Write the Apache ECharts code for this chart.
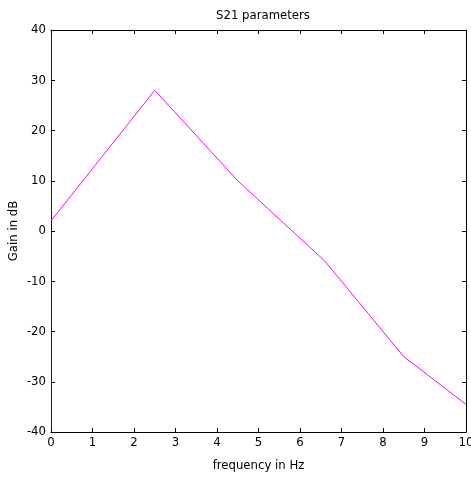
<!DOCTYPE html>
<html>
<head>
<meta charset="utf-8">
<script src="https://cdn.jsdelivr.net/npm/echarts@6/dist/echarts.min.js"></script>
<style>html,body{margin:0;padding:0;background:#fff}#c{width:471px;height:477px}</style>
</head>
<body>
<div id="c"></div>
<script>
var freq = [0, 2.5, 4.5, 6.6, 8.5, 10];
var gain = [2, 28, 10, -6, -25, -34.5];
var xTicks = [0,1,2,3,4,5,6,7,8,9,10];
var yTicks = [-40,-30,-20,-10,0,10,20,30,40];

var chart = echarts.init(document.getElementById('c'), null, {renderer:'canvas'});
var font = '"Liberation Sans Narrow", "DejaVu Sans Condensed", "Liberation Sans", sans-serif';
var tickStyle = {show:true, inside:true, length:4, lineStyle:{color:'#000', width:1}};
chart.setOption({
  animation:false,
  backgroundColor:'#fff',
  title:{text:'S21 parameters', left:258, top:4, textAlign:'center',
    textStyle:{fontFamily:font, fontSize:13, fontWeight:'normal', color:'#000'}},
  grid:{left:51, right:5, top:30, bottom:45, containLabel:false, outerBoundsMode:'none'},
  xAxis:[{
    type:'value', min:0, max:10, interval:1, position:'bottom',
    name:'frequency in Hz', nameLocation:'middle', nameGap:27,
    nameTextStyle:{fontFamily:font, fontSize:13, color:'#000'},
    axisLine:{show:true, onZero:false, lineStyle:{color:'#000', width:1}},
    axisTick:tickStyle,
    axisLabel:{fontFamily:font, fontSize:13, color:'#000', margin:4},
    splitLine:{show:false}
  },{
    type:'value', min:0, max:10, interval:1, position:'top',
    axisLine:{show:true, onZero:false, lineStyle:{color:'#000', width:1}},
    axisTick:tickStyle, axisLabel:{show:false}, splitLine:{show:false}
  }],
  yAxis:[{
    type:'value', min:-40, max:40, interval:10, position:'left',
    name:'Gain in dB', nameLocation:'middle', nameGap:31, nameRotate:90, nameMoveOverlap:false,
    nameTextStyle:{fontFamily:font, fontSize:13, color:'#000'},
    axisLine:{show:true, onZero:false, lineStyle:{color:'#0000ff', width:1}},
    axisTick:tickStyle,
    axisLabel:{fontFamily:font, fontSize:13, color:'#000', margin:5},
    splitLine:{show:false}
  },{
    type:'value', min:-40, max:40, interval:10, position:'right',
    axisLine:{show:true, onZero:false, lineStyle:{color:'#000', width:1}},
    axisTick:tickStyle, axisLabel:{show:false}, splitLine:{show:false}
  }],
  series:[{
    type:'line', xAxisIndex:0, yAxisIndex:0, z:1,
    data: freq.map(function(f,i){return [f, gain[i]];}),
    showSymbol:false, symbol:'none',
    lineStyle:{color:'#ff00ff', width:1},
    itemStyle:{color:'#ff00ff'}
  }]
});
</script>
</body>
</html>
